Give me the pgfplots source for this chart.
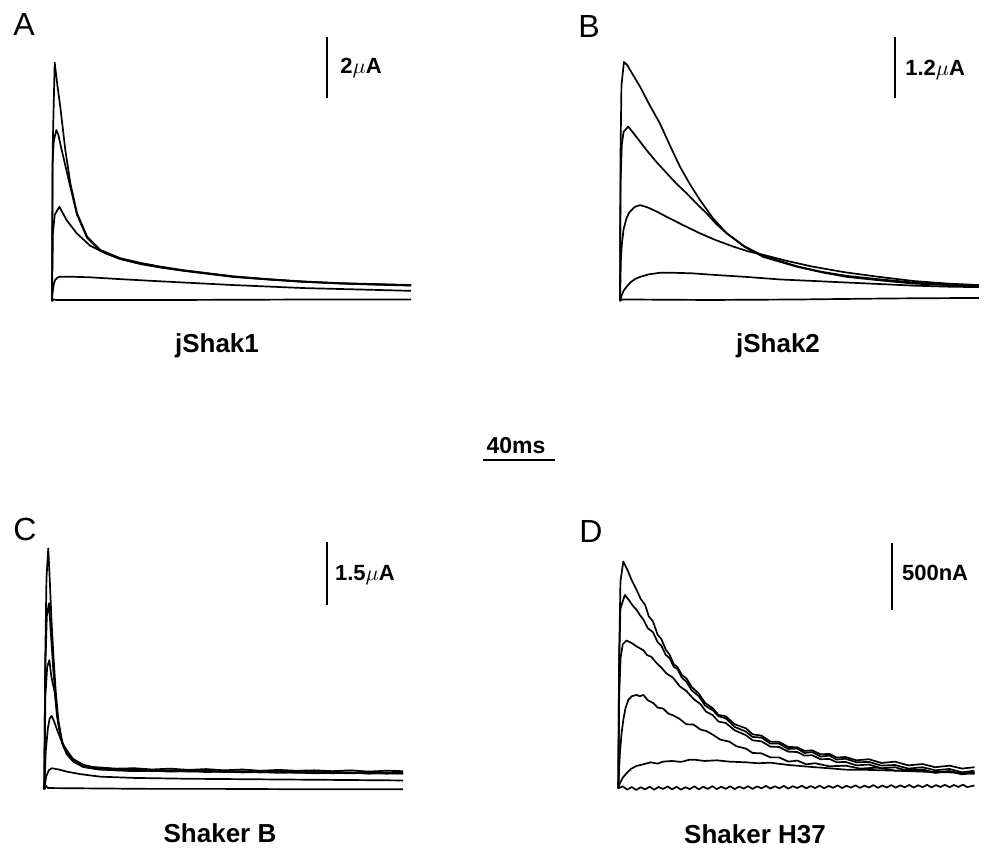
\documentclass[border=0pt]{standalone}
\usepackage{fontspec}
\setmainfont{Liberation Sans}
\usepackage{pgfplots}
\pgfplotsset{compat=1.18}

% one trace panel: time in ms on x, current on y, no axes drawn
\pgfplotsset{
  trace panel/.style={
    axis lines=none, xmin=0, xmax=200, ymin=0,
    enlargelimits=false, clip=false, anchor=south west,
    cycle list={{black, solid, mark=none}},
  },
  every axis plot/.append style={line width=0.85pt, line join=round},
}
\newcommand{\barlabel}{\fontsize{11}{13}\selectfont\bfseries}
\newcommand{\paneltitle}{\fontsize{13}{15}\selectfont\bfseries}
\newcommand{\panelletter}{\fontsize{16}{18}\selectfont}

\begin{document}
\begin{tikzpicture}[x=0.5pt, y=-0.5pt]
\useasboundingbox (0,0) rectangle (986,848);

% ---------------- A : jShak1 (uA)
\begin{axis}[trace panel, at={(26pt,-150.5pt)}, x=0.9pt, y=15.4pt, ymax=9]
\addplot coordinates {(0,0)(0.4,5)(1.5,7.74)(3,7.0)(4.6,6.31)(7.4,4.9)(10.2,3.82)(13.9,2.85)(19.5,2.09)(26.8,1.66)(37.9,1.39)(49,1.24)(60,1.12)(73,1.0)(87,0.9)(101,0.8)(120,0.71)(138,0.64)(160,0.58)(180,0.55)(199.5,0.52)};
\addplot coordinates {(0,0)(0.3,4.5)(1,5.2)(2.4,5.55)(3.5,5.4)(5,5.0)(7.4,4.4)(10.2,3.7)(13.9,2.8)(19.5,2.05)(26.8,1.63)(37.9,1.36)(49,1.22)(60,1.1)(73,0.99)(87,0.89)(101,0.79)(120,0.7)(138,0.63)(160,0.57)(180,0.54)(199.5,0.51)};
\addplot coordinates {(0,0)(0.5,2.2)(1.5,2.8)(4.1,3.06)(8.1,2.63)(13.7,2.2)(21.1,1.8)(30.4,1.53)(37.8,1.37)(49,1.2)(60,1.09)(73,0.98)(87,0.88)(101,0.78)(120,0.7)(138,0.63)(160,0.57)(180,0.53)(199.5,0.5)};
\addplot coordinates {(0,0)(0.3,0.25)(1,0.55)(1.7,0.68)(3,0.76)(4.4,0.79)(10,0.79)(21,0.77)(38,0.71)(60,0.64)(80,0.58)(100,0.52)(120,0.47)(140,0.42)(160,0.39)(180,0.36)(199.5,0.33)};
\addplot coordinates {(0,0)(1,0.05)(3,0.03)(50,0.03)(100,0.04)(150,0.05)(199.5,0.05)};
\draw[line width=1pt] (axis cs:152.8,6.58) -- (axis cs:152.8,8.58);
\node[anchor=west, inner sep=0pt] at (axis cs:160,7.56) {\barlabel 2$\mu$A};
\end{axis}

% ---------------- B : jShak2 (uA)
\begin{axis}[trace panel, at={(310pt,-150.5pt)}, x=0.9pt, y=25.65pt, ymax=5.4]
\addplot coordinates {(0,0)(0.3,2.9)(0.8,4.2)(2.2,4.66)(4,4.6)(7,4.42)(11.1,4.18)(16,3.85)(22.2,3.46)(27.5,3.05)(33.3,2.62)(38.8,2.28)(44.4,1.97)(51.5,1.62)(59.3,1.32)(69,1.06)(79.6,0.86)(98,0.67)(112,0.56)(126,0.47)(145,0.4)(163,0.34)(182,0.31)(199.4,0.28)};
\addplot coordinates {(0,0)(0.3,2.3)(1,3.05)(2,3.3)(4.6,3.40)(8,3.25)(14.8,2.94)(20,2.72)(26,2.49)(31,2.3)(37,2.1)(42.5,1.9)(48.1,1.71)(53.5,1.5)(59.3,1.32)(69,1.07)(79.6,0.88)(98,0.68)(112,0.57)(126,0.49)(145,0.42)(163,0.36)(182,0.32)(199.4,0.29)};
\addplot coordinates {(0,0)(0.5,0.8)(1,1.1)(2,1.4)(3.5,1.6)(5,1.72)(8,1.83)(11.1,1.87)(15,1.83)(20,1.75)(26,1.64)(35,1.48)(44.4,1.32)(53,1.19)(63,1.06)(71,0.97)(79.6,0.9)(93,0.78)(107,0.67)(125,0.56)(144,0.47)(163,0.39)(182,0.34)(199.4,0.31)};
\addplot coordinates {(0,0)(1,0.12)(2,0.2)(3.7,0.28)(6,0.37)(8.5,0.43)(11.1,0.47)(16,0.52)(22.2,0.55)(30,0.55)(40,0.54)(52,0.51)(70,0.47)(89,0.42)(108,0.39)(126,0.36)(145,0.33)(163,0.3)(182,0.28)(199.4,0.27)};
\addplot coordinates {(0,0)(1,0.03)(50,0.02)(100,0.03)(150,0.05)(199.4,0.06)};
\draw[line width=1pt] (axis cs:152.8,3.95) -- (axis cs:152.8,5.15);
\node[anchor=west, inner sep=0pt] at (axis cs:158.3,4.5) {\barlabel 1.2$\mu$A};
\end{axis}

% ---------------- C : Shaker B (uA)
\begin{axis}[trace panel, at={(22.15pt,-394.65pt)}, x=0.9pt, y=21.1pt, ymax=6.2]
\addplot coordinates {(0,0)(0.5,3)(1.2,5.0)(2.2,5.71)(3,5.0)(4,4.0)(5,3.22)(6.4,2.3)(7.8,1.64)(10,1.1)(12.4,0.85)(16,0.67)(21.7,0.54)(30,0.52)(40,0.49)(50,0.5)(60,0.47)(70,0.49)(80,0.46)(90,0.48)(100,0.45)(110,0.47)(120,0.44)(130,0.46)(140,0.44)(150,0.45)(160,0.43)(170,0.45)(180,0.42)(190,0.44)(199.4,0.43)};
\addplot coordinates {(0,0)(0.5,2.8)(1.4,4.1)(2.6,4.41)(3.5,3.8)(5,2.83)(6.4,2.1)(7.8,1.56)(10,1.08)(12.4,0.84)(16,0.66)(21.7,0.53)(30,0.48)(40,0.46)(50,0.44)(60,0.46)(70,0.43)(80,0.45)(90,0.42)(100,0.44)(110,0.41)(120,0.43)(130,0.41)(140,0.42)(150,0.4)(160,0.42)(170,0.39)(180,0.41)(190,0.39)(199.4,0.4)};
\addplot coordinates {(0,0)(0.6,2.2)(1.6,2.9)(2.8,3.06)(4,2.65)(5.9,2.27)(7,1.75)(8.7,1.33)(10.5,1.05)(12.4,0.86)(16,0.67)(21.7,0.53)(30,0.47)(40,0.45)(50,0.43)(60,0.44)(70,0.42)(80,0.43)(90,0.41)(100,0.42)(110,0.4)(120,0.41)(130,0.39)(140,0.4)(150,0.38)(160,0.39)(170,0.38)(180,0.39)(190,0.37)(199.4,0.38)};
\addplot coordinates {(0,0)(0.8,0.9)(2,1.45)(3,1.68)(4.1,1.74)(5.5,1.6)(7.8,1.33)(10,1.1)(12.4,0.93)(16,0.72)(21.7,0.58)(30,0.5)(40,0.45)(50,0.47)(60,0.43)(70,0.45)(80,0.42)(90,0.44)(100,0.41)(110,0.43)(120,0.4)(130,0.42)(140,0.39)(150,0.41)(160,0.38)(170,0.4)(180,0.37)(190,0.39)(199.4,0.37)};
\addplot coordinates {(0,0)(1,0.3)(2.5,0.45)(4.1,0.5)(8,0.47)(12.4,0.42)(20,0.36)(31,0.3)(50,0.27)(80,0.25)(110,0.24)(140,0.23)(170,0.22)(199.4,0.21)};
\addplot coordinates {(0,0)(1,0.08)(2,0.03)(30,0.02)(60,0.01)(100,0.01)(150,0.0)(199.4,0.0)};
\draw[line width=1pt] (axis cs:156.9,4.37) -- (axis cs:156.9,5.87);
\node[anchor=west, inner sep=0pt] at (axis cs:161.3,5.08) {\barlabel 1.5$\mu$A};
\end{axis}

% ---------------- D : Shaker H37 (nA)
\begin{axis}[trace panel, at={(309.15pt,-394.15pt)}, x=0.895pt, y=0.0667pt, ymax=1900]
\addplot coordinates {(0,0)(0.5,1000)(1.2,1550)(2.8,1700)(5,1640)(7.5,1560)(10.2,1488)(12.5,1420)(15,1375)(17,1290)(19.4,1250)(22,1150)(24,1120)(26.5,1040)(28.7,1000)(31,930)(33,910)(35.5,850)(38,825)(41,760)(45,710)(48.5,640)(52.8,600)(56,550)(60,540)(65,480)(71.3,450)(75,405)(80,395)(85,350)(89.8,348)(95,310)(100,308)(104,280)(108.3,285)(113,255)(118,258)(122,230)(126.9,235)(133,210)(140,218)(147,190)(154.6,200)(162,172)(170,182)(177,158)(185,170)(192,148)(199,158)};
\addplot coordinates {(0,0)(0.4,900)(1.2,1350)(3.7,1450)(6,1410)(8,1370)(10.2,1338)(12,1300)(14,1265)(16.5,1200)(19.4,1170)(22,1095)(24,1070)(26.5,1000)(28.7,975)(31,910)(33,895)(35.5,830)(38,800)(41,735)(45,690)(48.5,620)(52.8,585)(56,540)(60,525)(65,460)(71.3,425)(75,385)(80,380)(85,335)(89.8,335)(95,295)(100,298)(104,265)(108.3,272)(113,238)(118,245)(122,215)(126.9,222)(133,195)(140,198)(147,170)(154.6,175)(162,148)(170,158)(177,135)(185,145)(192,120)(199,132)};
\addplot coordinates {(0,0)(0.5,700)(1.3,980)(2.5,1080)(4.6,1108)(8,1085)(10,1065)(12,1050)(14,1035)(16,1000)(18.5,985)(21.3,940)(24,905)(27,860)(30.5,830)(34.3,765)(38,730)(42,670)(46,630)(49,575)(52.8,548)(56,500)(60,490)(65,435)(71.3,398)(75,360)(80,352)(85,312)(89.8,310)(95,275)(100,272)(104,245)(108.3,248)(113,218)(118,220)(122,195)(126.9,198)(133,172)(140,178)(147,150)(154.6,158)(162,130)(170,142)(177,115)(185,128)(192,105)(199,118)};
\addplot coordinates {(0,0)(0.4,120)(0.9,263)(1.8,410)(2.8,513)(4,600)(5.6,663)(7.5,690)(10.2,700)(12,690)(14,700)(16.5,660)(19.4,640)(22,605)(25,598)(28,560)(31,545)(34.3,520)(38,480)(42,478)(46,440)(49,430)(52.8,402)(57,365)(62,350)(66,315)(71.3,298)(75,265)(80,262)(85,232)(89.8,232)(95,200)(100,208)(105,180)(110,188)(118,165)(127,170)(135,148)(145,155)(155,132)(165,142)(175,120)(185,128)(192,108)(199,120)};
\addplot coordinates {(0,0)(0.9,38)(2.5,80)(4.6,113)(7,145)(10.2,168)(14,180)(18,195)(22,185)(25,200)(30,205)(35,198)(40,215)(43.5,213)(48,205)(55,210)(62,200)(71.3,195)(78,188)(85,192)(95,175)(108,160)(118,150)(127,140)(140,138)(155,132)(170,125)(185,120)(199,108)};
\addplot coordinates {(0,0)(2.5,15)(5,-10)(7.5,10)(10,-12)(12.5,8)(15,-8)(17.5,12)(20,-10)(22.5,10)(25,-5)(27.5,14)(30,-8)(32.5,12)(35,-10)(37.5,8)(40,-6)(42.5,15)(45,-8)(47.5,12)(50,-5)(52.5,16)(55,-6)(57.5,12)(60,-4)(62.5,15)(65,-6)(67.5,13)(70,-2)(72.5,16)(75,-4)(77.5,14)(80,0)(82.5,18)(85,-2)(87.5,15)(90,0)(92.5,18)(95,-3)(97.5,16)(100,2)(102.5,20)(105,0)(107.5,17)(110,2)(112.5,20)(115,0)(117.5,18)(120,4)(122.5,22)(125,2)(127.5,19)(130,5)(132.5,22)(135,3)(137.5,20)(140,6)(142.5,24)(145,4)(147.5,21)(150,6)(152.5,24)(155,5)(157.5,22)(160,8)(162.5,25)(165,6)(167.5,23)(170,8)(172.5,26)(175,7)(177.5,24)(180,10)(182.5,26)(185,8)(187.5,25)(190,10)(192.5,27)(195,9)(199,22)};
\draw[line width=1pt] (axis cs:152.8,1338) -- (axis cs:152.8,1838);
\node[anchor=west, inner sep=0pt] at (axis cs:158.3,1613) {\barlabel 500nA};
\end{axis}

% panel letters
\node[anchor=base west, inner sep=0pt] at (13,35) {\panelletter A};
\node[anchor=base west, inner sep=0pt] at (578,37) {\panelletter B};
\node[anchor=base west, inner sep=0pt] at (13,540) {\panelletter C};
\node[anchor=base west, inner sep=0pt] at (579,542) {\panelletter D};

% panel names
\node[anchor=base, inner sep=0pt] at (217,352) {\paneltitle jShak1};
\node[anchor=base, inner sep=0pt] at (778,352) {\paneltitle jShak2};
\node[anchor=base, inner sep=0pt] at (220,842) {\paneltitle Shaker B};
\node[anchor=base, inner sep=0pt] at (755,843) {\paneltitle Shaker H37};

% common 40 ms time bar
\node[anchor=base, inner sep=0pt] at (516,453) {\fontsize{11.5}{13}\selectfont\bfseries 40ms};
\draw[line width=1.2pt] (483,460) -- (555,460);
\end{tikzpicture}
\end{document}
